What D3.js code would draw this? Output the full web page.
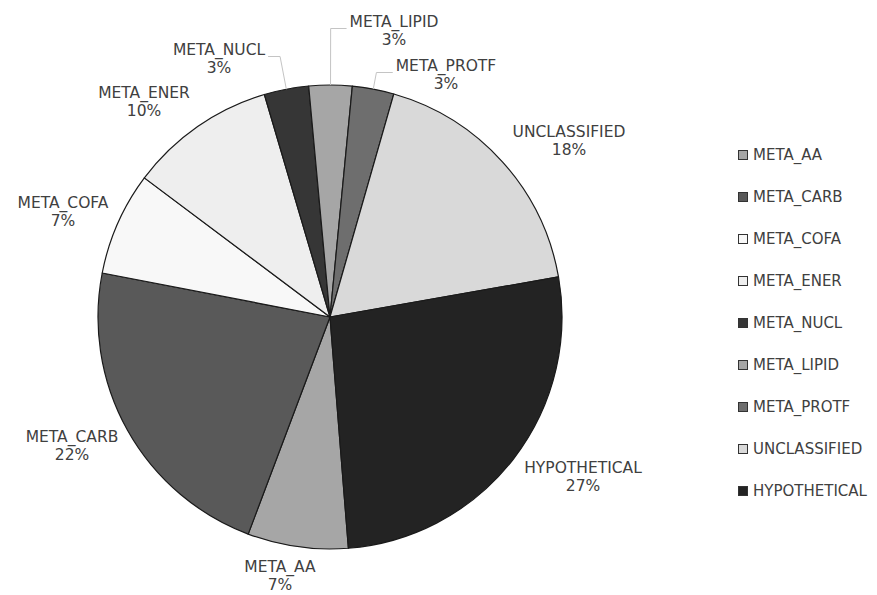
<!DOCTYPE html>
<html>
<head>
<meta charset="utf-8">
<script src="https://cdn.jsdelivr.net/npm/d3@7"></script>
<style>
  body { margin: 0; background: #fff; }
  text { font-family: "DejaVu Sans", Verdana, sans-serif; }
</style>
</head>
<body>
<svg id="chart"></svg>
<script>
// categories and their share of the whole (percent)
const CATEGORIES = [
  "META_AA", "META_CARB", "META_COFA", "META_ENER", "META_NUCL",
  "META_LIPID", "META_PROTF", "UNCLASSIFIED", "HYPOTHETICAL",
];
const SHARES = [7.0, 22.3, 7.2, 10.2, 3.1, 3.0, 2.9, 17.8, 26.5];

// slices with a leader line to their label
const WITH_LEADER = ["META_NUCL", "META_LIPID", "META_PROTF"];

const COLOR_MAP = {
  META_AA: "#a6a6a6",
  META_CARB: "#595959",
  META_COFA: "#f8f8f8",
  META_ENER: "#eeeeee",
  META_NUCL: "#363636",
  META_LIPID: "#a6a6a6",
  META_PROTF: "#6e6e6e",
  UNCLASSIFIED: "#d9d9d9",
  HYPOTHETICAL: "#232323",
};

// label placement: offset of the first line (centre, baseline) from pie centre
const LABEL_OFFSETS = {
  META_AA: [-50, 255],
  META_CARB: [-258, 125],
  META_COFA: [-267, -109],
  META_ENER: [-186, -219],
  META_NUCL: [-111, -262],
  META_LIPID: [64, -290],
  META_PROTF: [116, -246],
  UNCLASSIFIED: [239, -180],
  HYPOTHETICAL: [253, 156],
};

const TOTAL_WIDTH = 877;
const TOTAL_HEIGHT = 595;

const PIE_CX = 330;
const PIE_CY = 317;
const RADIUS = 232;
const START_ANGLE = (175.45 * Math.PI) / 180;

const LABEL_FONT = 15.5;
const LINE_GAP = 18;
const TEXT_COLOR = "#404040";

const LEGEND_X = 738;
const LEGEND_Y = 155;
const LEGEND_STEP = 42;
const SWATCH = 9;

const rows = CATEGORIES.map((name, i) => ({ name, value: SHARES[i] }));
const total = d3.sum(SHARES);

const svg = d3
  .select("#chart")
  .attr("width", TOTAL_WIDTH)
  .attr("height", TOTAL_HEIGHT)
  .style("background-color", "white");

const pie = d3
  .pie()
  .sort(null)
  .value((d) => d.value)
  .startAngle(START_ANGLE)
  .endAngle(START_ANGLE + 2 * Math.PI);

const arcs = pie(rows);
const arc = d3.arc().innerRadius(0).outerRadius(RADIUS);

const pieGroup = svg
  .append("g")
  .attr("transform", `translate(${PIE_CX}, ${PIE_CY})`);

// Draw slices
pieGroup
  .selectAll(".slice")
  .data(arcs)
  .join("path")
  .classed("slice", true)
  .attr("d", arc)
  .attr("fill", (d) => COLOR_MAP[d.data.name])
  .attr("stroke", "#1a1a1a")
  .attr("stroke-width", 1.2)
  .attr("stroke-linejoin", "round");

// Data labels
const labels = pieGroup
  .selectAll(".label")
  .data(arcs)
  .join("text")
  .classed("label", true)
  .attr("text-anchor", "middle")
  .attr("font-size", LABEL_FONT)
  .attr("fill", TEXT_COLOR)
  .attr("transform", (d) => {
    const [dx, dy] = LABEL_OFFSETS[d.data.name];
    return `translate(${dx}, ${dy})`;
  });

labels
  .append("tspan")
  .attr("x", 0)
  .attr("y", 0)
  .text((d) => d.data.name);

labels
  .append("tspan")
  .attr("x", 0)
  .attr("y", LINE_GAP)
  .text((d) => Math.round((d.data.value / total) * 100 + 1e-6) + "%");

// Leader lines: radial from the slice edge up to the label line, then across
labels
  .filter((d) => WITH_LEADER.includes(d.data.name))
  .each(function (d) {
    const [lx, ly] = LABEL_OFFSETS[d.data.name];
    const width = this.querySelector("tspan").getComputedTextLength();
    const mid = (d.startAngle + d.endAngle) / 2;
    const ax = RADIUS * Math.sin(mid);
    const ay = -RADIUS * Math.cos(mid);
    const lineY = ly + 1.5;
    const bx = (lineY / ay) * ax;
    const edge = bx < lx ? lx - width / 2 - 3 : lx + width / 2 + 3;

    pieGroup
      .insert("path", ".label")
      .classed("leader", true)
      .attr("d", d3.line()([[ax, ay], [bx, lineY], [edge, lineY]]))
      .attr("fill", "none")
      .attr("stroke", "#c4c4c4")
      .attr("stroke-width", 1);
  });

// Legend
const legend = svg
  .selectAll(".legend-item")
  .data(rows)
  .join("g")
  .classed("legend-item", true)
  .attr("transform", (d, i) => `translate(${LEGEND_X}, ${LEGEND_Y + i * LEGEND_STEP})`);

legend
  .append("rect")
  .attr("x", 0.5)
  .attr("y", -SWATCH / 2)
  .attr("width", SWATCH)
  .attr("height", SWATCH)
  .attr("fill", (d) => COLOR_MAP[d.name])
  .attr("stroke", "#333")
  .attr("stroke-width", 1);

legend
  .append("text")
  .attr("x", 15)
  .attr("y", 0)
  .attr("dy", "0.36em")
  .attr("font-size", 15)
  .attr("fill", TEXT_COLOR)
  .text((d) => d.name);
</script>
</body>
</html>
